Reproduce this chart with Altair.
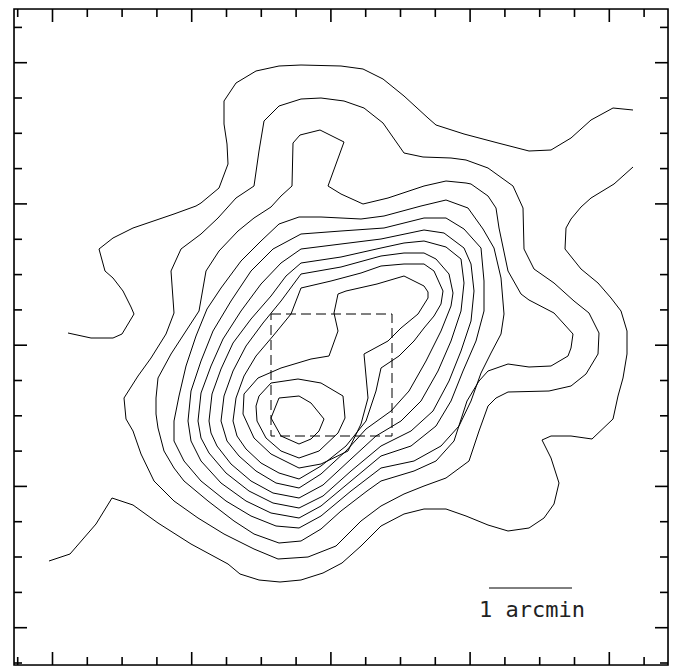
import altair as alt
import pandas as pd

# ---- contour lines (x to the right, y downward) ----
L1A = [(67,332),(90,337),(112,337),(121,333),(133,313),(130,306),(122,290),(112,277),(104,270),
       (98,248),(112,237),(132,227),(173,213),(195,205),(200,202),(218,187),(227,163),(226,143),
       (223,123),(223,100),(235,82),(255,70),(278,65),(300,64),(340,65),(362,68),(382,78),(403,95),
       (427,117),(435,124),(463,133),(497,142),(528,150),(550,149),(570,137),(590,119),(612,107),(632,109)]
L1B = [(48,560),(69,553),(95,523),(111,497),(132,504),(157,522),(190,543),(227,563),(239,573),(258,579),
       (279,581),(300,579),(322,572),(341,562),(360,545),(380,525),(403,513),(423,508),(445,508),(465,515),
       (487,524),(507,530),(528,527),(543,517),(553,503),(558,482),(550,457),(541,439),(550,435),(570,435),
       (591,438),(612,418),(617,395),(622,377),(626,353),(626,330),(620,310),(610,297),(597,282),(580,268),
       (564,248),(565,227),(570,218),(580,206),(590,197),(613,183),(632,166)]
L2 = [(200,233),(217,217),(235,197),(253,185),(258,150),(263,120),(278,105),(300,98),(320,97),(343,100),
      (363,107),(382,122),(403,152),(422,156),(450,157),(465,159),(487,167),(512,185),(522,207),(523,248),
      (533,268),(553,282),(573,300),(588,312),(598,332),(597,353),(585,373),(570,385),(548,390),(507,391),
      (495,397),(487,405),(478,430),(468,460),(445,477),(423,485),(403,493),(380,505),(360,520),(335,545),
      (307,556),(277,558),(253,548),(223,533),(197,517),(173,500),(153,480),(140,453),(132,430),(125,418),
      (123,397),(137,375),(150,357),(165,333),(173,312),(170,270),(180,248)]
L3 = [(205,270),(218,250),(237,230),(253,217),(270,206),(280,195),(291,185),(292,142),(299,134),(319,129),
      (343,141),(327,185),(340,193),(362,203),(387,197),(423,185),(445,180),(465,182),(470,183),(487,195),
      (495,207),(498,227),(507,270),(520,293),(528,299),(553,312),(563,323),(572,333),(570,347),(567,355),
      (550,365),(528,366),(507,363),(487,370),(478,380),(466,400),(453,440),(435,460),(413,470),(380,480),
      (366,490),(340,510),(320,528),(300,540),(278,542),(253,533),(233,520),(207,500),(183,480),(173,467),
      (163,450),(157,427),(155,413),(155,397),(157,377),(170,353),(183,333),(198,310)]
L4 = [(206,308),(220,287),(240,260),(260,240),(278,223),(298,216),(320,216),(360,218),(383,215),(420,205),
      (445,199),(467,207),(482,228),(493,247),(500,277),(503,313),(500,333),(490,352),(480,372),(470,400),
      (458,425),(440,445),(413,460),(380,467),(350,490),(320,515),(298,527),(275,525),(250,515),(225,500),
      (200,480),(183,460),(173,440),(173,420),(178,395),(185,365),(195,335)]
L5 = [(187,420),(190,390),(200,360),(212,330),(230,300),(250,270),(272,248),(300,233),(340,230),(383,227),
      (423,217),(445,217),(463,228),(480,247),(483,280),(483,310),(475,340),(462,370),(450,400),(435,425),
      (410,445),(380,455),(350,480),(320,505),(298,517),(270,512),(245,500),(220,482),(200,460),(190,440)]
L6 = [(197,420),(200,392),(210,365),(222,338),(240,310),(260,283),(280,262),(300,248),(340,243),(380,238),
      (423,229),(443,232),(463,247),(470,263),(473,290),(470,320),(460,350),(448,380),(432,410),(410,430),
      (380,445),(350,470),(322,495),(298,507),(272,502),(248,490),(225,472),(208,452),(200,437)]
L7 = [(208,420),(211,393),(220,368),(232,342),(250,318),(270,295),(285,275),(300,262),(340,256),(380,247),
      (403,242),(423,240),(445,246),(460,258),(463,282),(460,310),(450,340),(437,370),(420,400),(400,420),
      (375,435),(350,458),(322,484),(298,497),(272,492),(250,480),(230,463),(216,445),(210,432)]
L8 = [(220,420),(223,395),(232,370),(245,345),(262,322),(280,300),(300,273),(340,266),(380,255),(403,252),
      (423,252),(435,258),(448,273),(452,292),(450,305),(440,330),(425,360),(408,390),(390,410),(365,428),
      (345,450),(320,473),(298,487),(275,482),(255,470),(238,455),(226,440)]
L9 = [(232,420),(235,397),(243,375),(255,355),(272,335),(290,313),(300,287),(330,280),(360,272),(380,265),
      (403,263),(423,263),(433,270),(442,290),(440,303),(433,315),(423,327),(413,340),(398,355),(380,367),
      (375,390),(365,420),(345,445),(320,465),(298,478),(278,472),(260,462),(245,448),(236,435)]
L10 = [(243,393),(257,377),(280,367),(310,358),(328,355),(337,330),(333,312),(337,293),(345,290),(376,283),
       (403,275),(423,285),(427,291),(427,297),(417,313),(400,327),(387,340),(363,353),(367,397),(360,423),
       (347,450),(320,463),(298,467),(270,453),(253,437),(242,413)]
L11 = [(255,405),(258,395),(270,382),(297,378),(320,382),(342,395),(344,417),(337,432),(318,450),(298,457),
       (280,450),(265,437),(256,420)]
L12 = [(278,397),(298,395),(310,402),(323,418),(318,430),(310,438),(298,443),(280,435),(270,417)]

OPEN_LINES = {"L1A": L1A, "L1B": L1B}
CLOSED_LINES = {"L2": L2, "L3": L3, "L4": L4, "L5": L5, "L6": L6, "L7": L7, "L8": L8,
                "L9": L9, "L10": L10, "L11": L11, "L12": L12}

# dashed box (corners) and scale bar
BOX = [(270, 313), (391, 435)]
BAR = [(488, 587), (571, 587)]
BAR_LABEL = "1 arcmin"
BAR_LABEL_POS = (531, 616)

# frame and tick marks
FRAME_X = [13, 667]
FRAME_Y = [8, 664]
TICK_X = [16.7, 51.5, 86.3, 121.1, 155.9, 190.7, 225.5, 260.3, 295.1, 329.9, 364.7, 399.5,
          434.3, 469.1, 503.9, 538.7, 573.5, 608.3, 643.1]
TICK_X_MAJOR = [False, True, False, False, False, True, False, False, False, True, False, False,
                False, True, False, False, False, True, False]
TICK_Y = [26.4, 61.7, 97.0, 132.3, 167.6, 202.9, 238.3, 273.6, 308.9, 344.2, 379.5, 414.8,
          450.1, 485.4, 520.7, 556.0, 591.4, 626.7, 662.0]
TICK_Y_MAJOR = TICK_X_MAJOR
TICK_LEN = {True: 13, False: 8}

# ---------------- build tables ----------------
rows = []
for name, pts in OPEN_LINES.items():
    for i, (x, y) in enumerate(pts):
        rows.append({"piece": name, "i": i, "x": x, "y": y})
for name, pts in CLOSED_LINES.items():
    for i, (x, y) in enumerate(pts + [pts[0]]):
        rows.append({"piece": name, "i": i, "x": x, "y": y})
contours = pd.DataFrame(rows)

tick_rows = []
x0, x1 = FRAME_X
y0, y1 = FRAME_Y
for tx, major in zip(TICK_X, TICK_X_MAJOR):
    L = TICK_LEN[major]
    tick_rows.append({"x": tx, "x2": tx, "y": y1, "y2": y1 - L})
    tick_rows.append({"x": tx, "x2": tx, "y": y0, "y2": y0 + L})
for ty, major in zip(TICK_Y, TICK_Y_MAJOR):
    L = TICK_LEN[major]
    tick_rows.append({"x": x0, "x2": x0 + L, "y": ty, "y2": ty})
    tick_rows.append({"x": x1, "x2": x1 - L, "y": ty, "y2": ty})
ticks = pd.DataFrame(tick_rows)

frame = pd.DataFrame([{"x": x0, "y": y0, "x2": x1, "y2": y1}])
box = pd.DataFrame([{"x": BOX[0][0], "y": BOX[0][1], "x2": BOX[1][0], "y2": BOX[1][1]}])
bar = pd.DataFrame([{"x": BAR[0][0], "y": BAR[0][1], "x2": BAR[1][0], "y2": BAR[1][1]}])
label = pd.DataFrame([{"x": BAR_LABEL_POS[0], "y": BAR_LABEL_POS[1], "t": BAR_LABEL}])

xs = alt.Scale(domain=FRAME_X, nice=False, zero=False)
ys = alt.Scale(domain=FRAME_Y, nice=False, zero=False, reverse=True)
X = lambda f: alt.X(f, type="quantitative", scale=xs, axis=None)
Y = lambda f: alt.Y(f, type="quantitative", scale=ys, axis=None)

lines = alt.Chart(contours).mark_line(color="black", strokeWidth=1, strokeJoin="miter").encode(
    x=X("x"), y=Y("y"), detail="piece:N", order="i:Q")

tick_layer = alt.Chart(ticks).mark_rule(color="black", strokeWidth=1.6).encode(
    x=X("x"), x2="x2", y=Y("y"), y2="y2")

frame_layer = alt.Chart(frame).mark_rect(filled=False, stroke="black", strokeWidth=1.6).encode(
    x=X("x"), x2="x2", y=Y("y"), y2="y2")

box_layer = alt.Chart(box).mark_rect(filled=False, stroke="black", strokeWidth=1,
                                     strokeDash=[10, 5]).encode(
    x=X("x"), x2="x2", y=Y("y"), y2="y2")

bar_layer = alt.Chart(bar).mark_rule(color="black", strokeWidth=1).encode(
    x=X("x"), x2="x2", y=Y("y"), y2="y2")

text_layer = alt.Chart(label).mark_text(font="DejaVu Sans Mono", fontSize=22, color="#222",
                                        align="center", baseline="alphabetic").encode(
    x=X("x"), y=Y("y"), text="t:N")

chart = alt.layer(frame_layer, lines, tick_layer, box_layer, bar_layer, text_layer).properties(
    width=FRAME_X[1] - FRAME_X[0], height=FRAME_Y[1] - FRAME_Y[0],
    padding={"left": 5, "top": 0, "right": 5, "bottom": 5},
).configure_view(stroke="transparent", strokeWidth=0).configure(background="white")

chart.save("out.html", embed_options={"renderer": "svg", "actions": False})
